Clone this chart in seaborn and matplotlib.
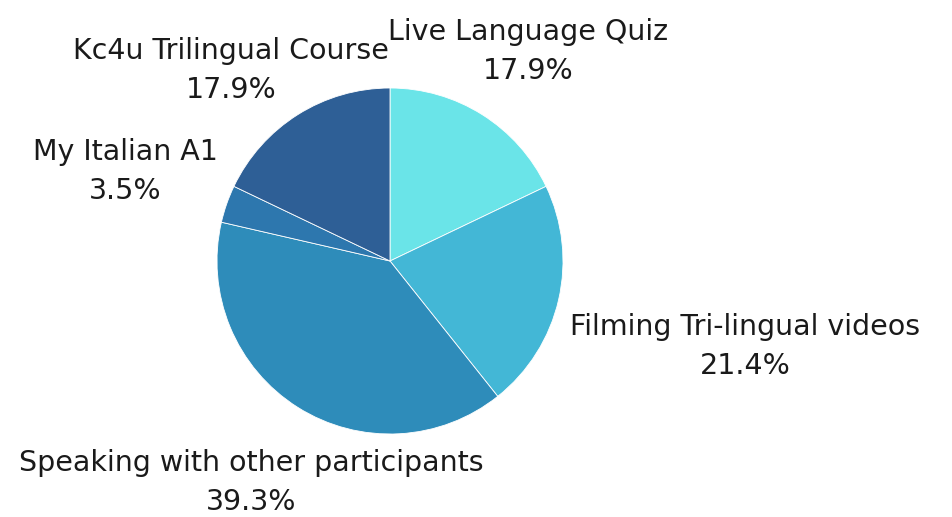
import matplotlib
matplotlib.use("Agg")
import matplotlib.pyplot as plt
import seaborn as sns

categories = ["Live Language Quiz", "Filming Tri-lingual videos",
              "Speaking with other participants", "My Italian A1",
              "Kc4u Trilingual Course"]
shares = [17.9, 21.4, 39.3, 3.5, 17.9]
colors = ["#6AE4E8", "#43B7D6", "#2E8CBA", "#2D77AE", "#2E5F96"]
# label anchor points (in pie radius units) and alignment
label_pos = [(0.80, 1.21), (1.04, -0.497), (-0.80, -1.283), (-1.532, 0.52), (-0.919, 1.104)]
label_ha = ["center", "left", "center", "center", "center"]

sns.set_theme(style="white")
plt.rcParams['font.family'] = ['DejaVu Sans']

fig = plt.figure(figsize=(9.52, 5.17), dpi=100)
ax = fig.add_axes([217/952, (517-434)/517, 346/952, 346/517])
ax.pie(shares, colors=colors, startangle=90, counterclock=False,
       wedgeprops=dict(edgecolor="white", linewidth=0.6))
ax.set_xlim(-1, 1)
ax.set_ylim(-1, 1)
ax.set_aspect("equal")
ax.axis("off")

for cat, s, (x, y), ha in zip(categories, shares, label_pos, label_ha):
    ax.text(x, y, f"{cat}\n{s:.1f}%", ha=ha, va="center", fontsize=20.5,
            linespacing=1.5, color="#1a1a1a", multialignment="center", clip_on=False)

fig.savefig("out.png", dpi=100)
